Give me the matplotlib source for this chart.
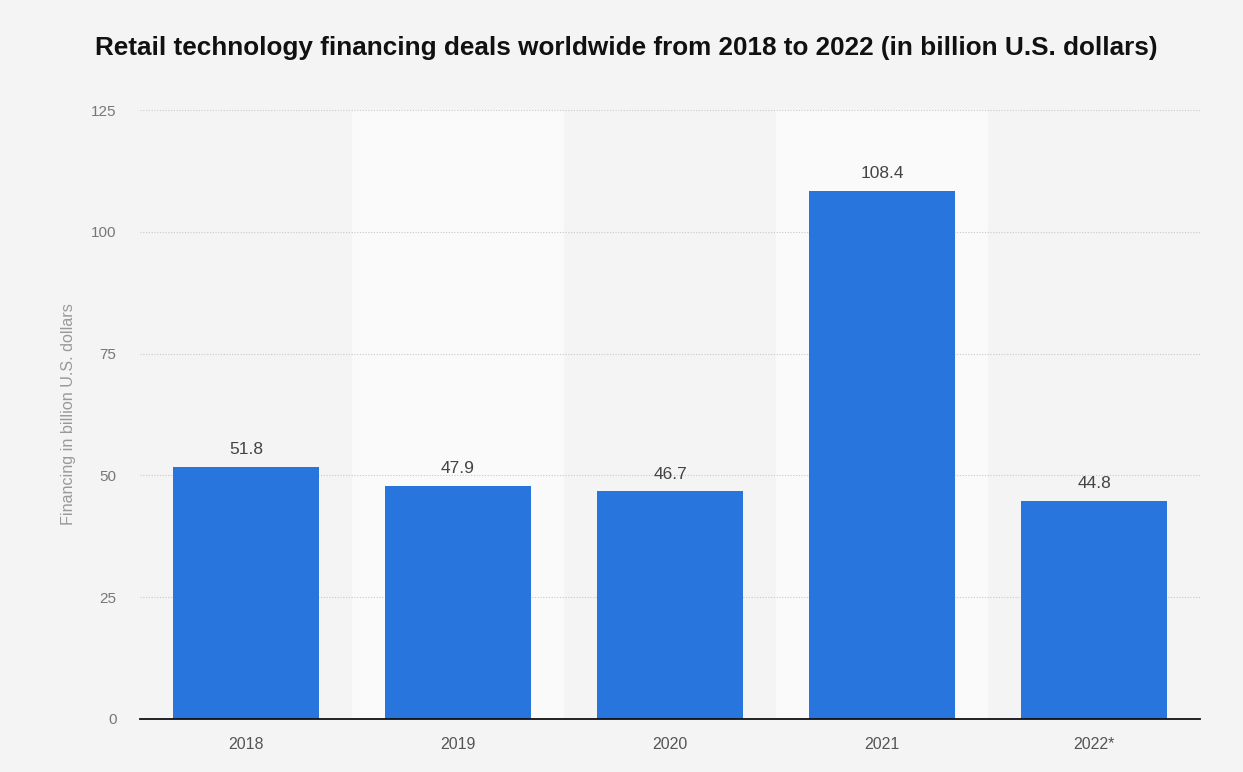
import matplotlib
matplotlib.use("Agg")
import matplotlib.pyplot as plt

years = ["2018", "2019", "2020", "2021", "2022*"]
financing = [51.8, 47.9, 46.7, 108.4, 44.8]
yticks = [0, 25, 50, 75, 100, 125]

plt.rcParams["font.family"] = ["Liberation Sans", "DejaVu Sans"]

W, H = 1243, 772
fig = plt.figure(figsize=(W / 100, H / 100), dpi=100)
fig.patch.set_facecolor("#f4f4f4")

left, right, top, bottom = 140, 1200, 110, 719
ax = fig.add_axes([left / W, 1 - bottom / H, (right - left) / W, (bottom - top) / H])
ax.set_facecolor("#f4f4f4")

x = list(range(len(years)))
ax.set_xlim(-0.5, len(years) - 0.5)
ax.set_ylim(0, 125)

# alternating lighter column bands
for i in x:
    if i % 2 == 1:
        ax.axvspan(i - 0.5, i + 0.5, color="#fafafa", zorder=0, lw=0)

ax.set_yticks(yticks)
ax.yaxis.grid(True, linestyle=(0, (1, 1.5)), color="#c8c8c8", lw=0.8, zorder=1)
ax.set_axisbelow(True)

bars = ax.bar(x, financing, width=0.685, color="#2876dd", zorder=2)
for xi, v in zip(x, financing):
    ax.annotate(f"{v:g}", (xi, v), xytext=(0, 7), textcoords="offset points",
                ha="center", va="bottom", fontsize=12.5, color="#444444")

ax.set_xticks(x)
ax.set_xticklabels(years)
ax.tick_params(axis="x", length=0, pad=13, labelsize=11.5, labelcolor="#555555")
ax.tick_params(axis="y", length=0, pad=17, labelsize=11, labelcolor="#777777")

for s in ["top", "right", "left"]:
    ax.spines[s].set_visible(False)
ax.spines["bottom"].set_color("#111111")
ax.spines["bottom"].set_linewidth(1.3)
ax.spines["bottom"].set_zorder(3)

ax.set_ylabel("Financing in billion U.S. dollars", fontsize=11.6, color="#999999")
ax.yaxis.set_label_coords(-71 / (right - left), 1 - (414 - top) / (bottom - top))
ax.yaxis.label.set_va("center")

fig.text(626 / W, 1 - 48 / H, "Retail technology financing deals worldwide from 2018 to 2022 (in billion U.S. dollars)",
         ha="center", va="center", fontsize=18.8, fontweight="bold", color="#111111")

fig.savefig("out.png", dpi=100, facecolor=fig.get_facecolor())
